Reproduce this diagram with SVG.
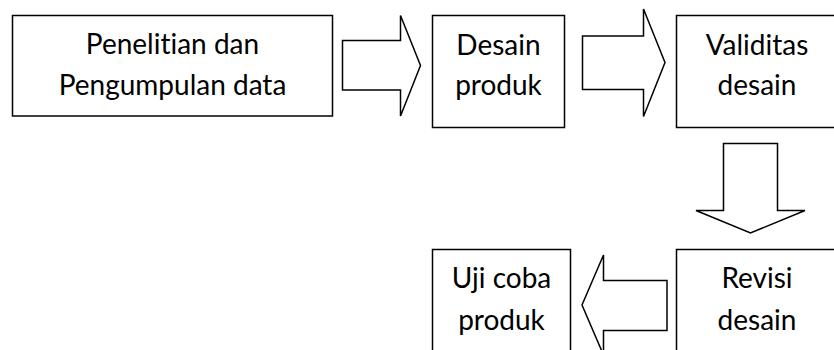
<svg xmlns="http://www.w3.org/2000/svg" width="834" height="350" viewBox="0 0 834 350">
<style>
.box{fill:#fff;stroke:#000;stroke-width:1.5}
.arr{fill:#fff;stroke:#000;stroke-width:1.5;stroke-linejoin:miter}
text{font-family:Lato,"Open Sans","Liberation Sans",sans-serif;font-size:28px;fill:#000;text-anchor:middle;font-variant-ligatures:none;font-feature-settings:"liga" 0,"clig" 0}
</style>
<rect width="834" height="350" fill="#fff"/>
<g id="connectors">
<polygon class="arr" points="342.5,40.5 400.5,40.5 400.5,15.5 420.5,65.5 400.5,116 400.5,90 342.5,90"/>
<polygon class="arr" points="582.5,36 643.5,36 643.5,9 665,62.5 643.5,116.5 643.5,89.5 582.5,89.5"/>
<polygon class="arr" points="723.5,143.5 777.5,143.5 777.5,210.5 805,210.5 750.5,233 696,210.5 723.5,210.5"/>
<polygon class="arr" points="667,280.5 603.5,280.5 603.5,255 582,305 603.5,355 603.5,330.5 667,330.5"/>
</g>
<g id="n1">
<rect class="box" x="12.5" y="15.5" width="320" height="100.5"/>
<text x="172.5" y="54">Penelitian dan</text>
<text x="172.5" y="95">Pengumpulan data</text>
</g>
<g id="n2">
<rect class="box" x="432.5" y="15.5" width="132" height="112"/>
<text x="498.5" y="55">Desain</text>
<text x="498.5" y="95">produk</text>
</g>
<g id="n3">
<rect class="box" x="676.5" y="15.5" width="161" height="112"/>
<text x="757" y="55">Validitas</text>
<text x="757" y="95">desain</text>
</g>
<g id="n4">
<rect class="box" x="432.5" y="249.5" width="138" height="120"/>
<text x="501.5" y="288">Uji coba</text>
<text x="501.5" y="330">produk</text>
</g>
<g id="n5">
<rect class="box" x="676.5" y="249.5" width="161" height="120"/>
<text x="757" y="288">Revisi</text>
<text x="757" y="330">desain</text>
</g>
</svg>
